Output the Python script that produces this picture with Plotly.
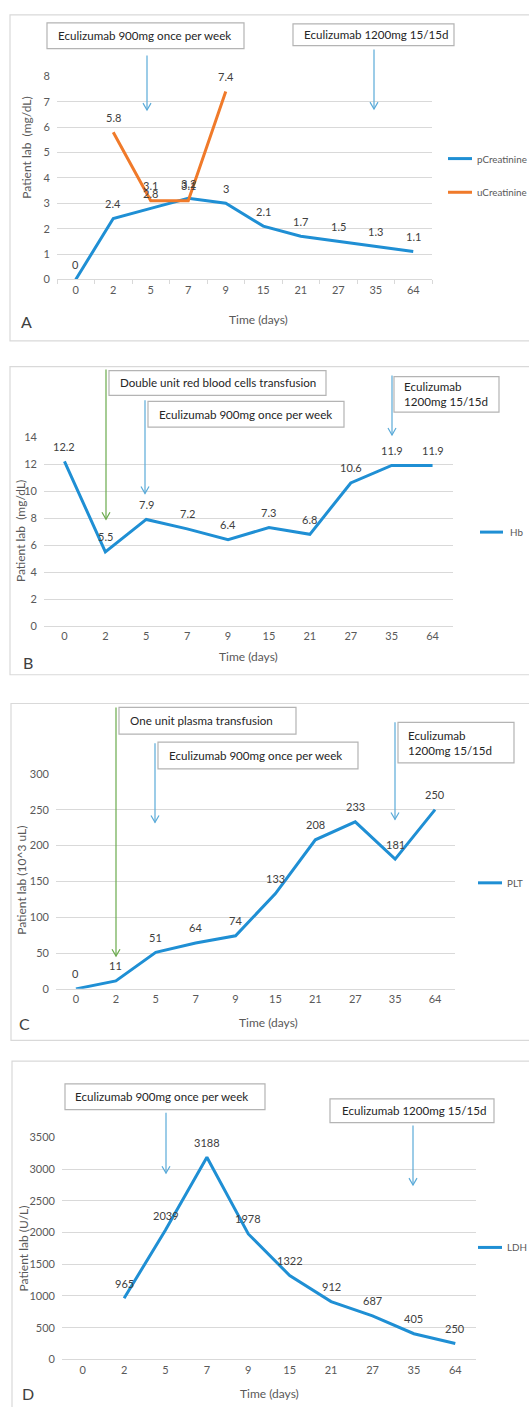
import plotly.graph_objects as go

# ---- data ----
days = ["0", "2", "5", "7", "9", "15", "21", "27", "35", "64"]
p_creatinine = [0, 2.4, 2.8, 3.2, 3, 2.1, 1.7, 1.5, 1.3, 1.1]
u_creatinine = [None, 5.8, 3.1, 3.1, 7.4, None, None, None, None, None]
hb = [12.2, 5.5, 7.9, 7.2, 6.4, 7.3, 6.8, 10.6, 11.9, 11.9]
plt_count = [0, 11, 51, 64, 74, 133, 208, 233, 181, 250]
ldh = [None, 965, 2039, 3188, 1978, 1322, 912, 687, 405, 250]

W, H = 529, 1407
BLUE = "#1f8fd4"
ORANGE = "#f07a2a"
ARROW_BLUE = "#5aaad8"
GREEN = "#6aaa4c"
GRID = "#d9d9d9"
TXT = "#595959"
FONT = "Lato"


def px(x):
    return x / W


def py(y):
    return 1 - y / H


fig = go.Figure()
shapes = []
annotations = []

# panel geometry: (axis suffix, plot left, plot right, plot bottom, plot top, y max, y step)
panels = [
    ("", 57, 432, 275, 70, 8, 1),
    ("2", 44, 453, 625, 434, 14, 2),
    ("3", 56, 455, 991, 774, 300, 50),
    ("4", 62, 476, 1365, 1141, 3500, 500),
]

series = [
    [("pCreatinine", p_creatinine, BLUE), ("uCreatinine", u_creatinine, ORANGE)],
    [("Hb", hb, BLUE)],
    [("PLT", plt_count, BLUE)],
    [("LDH", ldh, BLUE)],
]

for i, (sfx, x0, x1, yb, yt, ymax, ystep) in enumerate(panels):
    xa = "x" + sfx
    ya = "y" + sfx
    for name, vals, col in series[i]:
        fig.add_trace(go.Scatter(
            x=days, y=vals, mode="lines", name=name,
            line=dict(color=col, width=3), xaxis=xa, yaxis=ya,
            showlegend=False, connectgaps=False,
        ))
        # value labels sit above each point (category index as position)
        for k, v in enumerate(vals):
            if v is None:
                continue
            annotations.append(dict(
                x=k, y=v, xref=xa, yref=ya, text=str(v), showarrow=False,
                xanchor="center", yanchor="middle",
                yshift=15, font=dict(family=FONT, size=11, color="#404040"),
            ))
    ticks_visible = GRID if i == 0 else "rgba(0,0,0,0)"
    fig.update_layout(**{
        "xaxis" + sfx: dict(
            type="category", categoryorder="array", categoryarray=days,
            range=[-0.5, 9.5], domain=[px(x0), px(x1)], anchor=ya,
            showgrid=False, showline=True, linecolor=GRID, linewidth=1,
            ticks="outside", ticklen=4, tickcolor=ticks_visible,
            tickson="boundaries",
            tickfont=dict(family=FONT, size=11, color=TXT), zeroline=False,
        ),
        "yaxis" + sfx: dict(
            range=[0, ymax], dtick=ystep, domain=[py(yb), py(yt)], anchor=xa,
            showgrid=True, gridcolor=GRID, gridwidth=1, zeroline=False,
            showline=False, ticks="", ticklabelstandoff=6,
            tickfont=dict(family=FONT, size=11, color=TXT),
        ),
    })

# panel frames
frames = [(10, 8, 540, 337), (10, 363, 540, 674), (11, 703, 540, 1043), (12, 1064, 540, 1420)]
for fx0, fy0, fx1, fy1 in frames:
    shapes.append(dict(type="rect", xref="paper", yref="paper",
                       x0=px(fx0), x1=px(fx1), y0=py(fy1), y1=py(fy0),
                       line=dict(color=GRID, width=1.2), layer="below"))

# axis titles, panel letters
y_titles = [("Patient lab  (mg/dL)", 27, 142), ("Patient lab  (mg/dL)", 20, 529),
            ("Patient lab (10^3 uL)", 22, 882), ("Patient lab (U/L)", 23, 1253)]
x_titles = [(258, 315), (248, 656), (268, 1025), (269, 1399)]
letters = [("A", 26, 317), ("B", 28, 662), ("C", 24, 1026), ("D", 28, 1399)]
for t, x, y in y_titles:
    annotations.append(dict(x=px(x), y=py(y), xref="paper", yref="paper", text=t,
                            showarrow=False, textangle=-90,
                            xanchor="center", yanchor="middle",
                            font=dict(family=FONT, size=12, color=TXT)))
for x, y in x_titles:
    annotations.append(dict(x=px(x), y=py(y), xref="paper", yref="paper", text="Time (days)",
                            showarrow=False, xanchor="center", yanchor="middle",
                            font=dict(family=FONT, size=12, color=TXT)))
for t, x, y in letters:
    annotations.append(dict(x=px(x), y=py(y), xref="paper", yref="paper", text=t,
                            showarrow=False, xanchor="center", yanchor="middle",
                            font=dict(family=FONT, size=16, color="#404040")))

# legends
legends = [
    [("pCreatinine", BLUE, 153), ("uCreatinine", ORANGE, 187)],
    [("Hb", BLUE, 530)],
    [("PLT", BLUE, 884)],
    [("LDH", BLUE, 1252)],
]
legend_x = [(448, 472, 475), (480, 503, 508), (478, 502, 505), (478, 502, 505)]
for entries, (lx0, lx1, tx) in zip(legends, legend_x):
    for name, col, y in entries:
        shapes.append(dict(type="line", xref="paper", yref="paper",
                           x0=px(lx0), x1=px(lx1), y0=py(y), y1=py(y),
                           line=dict(color=col, width=3)))
        annotations.append(dict(x=px(tx), y=py(y), xref="paper", yref="paper", text=name,
                                xanchor="left", yanchor="middle", showarrow=False,
                                font=dict(family=FONT, size=9.8, color=TXT)))

# treatment note boxes: (left, top, right, bottom, text x, text)
boxes = [
    (47, 16, 244, 42, 56, "Eculizumab 900mg once per week"),
    (293, 17, 454, 39, 302, "Eculizumab 1200mg 15/15d"),
    (109, 367, 326, 392, 118, "Double unit red blood cells transfusion"),
    (148, 398, 344, 424, 157, "Eculizumab 900mg once per week"),
    (394, 373, 499, 409, 402, "Eculizumab<br>1200mg 15/15d"),
    (119, 707, 296, 734, 128, "One unit plasma transfusion"),
    (158, 742, 358, 769, 167, "Eculizumab 900mg once per week"),
    (398, 722, 514, 763, 406, "Eculizumab<br>1200mg 15/15d"),
    (65, 1087, 265, 1113, 73, "Eculizumab 900mg once per week"),
    (330, 1102, 494, 1126, 340, "Eculizumab 1200mg 15/15d"),
]
for bx0, by0, bx1, by1, tx, t in boxes:
    shapes.append(dict(type="rect", xref="paper", yref="paper",
                       x0=px(bx0), x1=px(bx1), y0=py(by1), y1=py(by0),
                       line=dict(color="#b4b4b4", width=1.2), fillcolor="white"))
    annotations.append(dict(x=px(tx), y=py((by0 + by1) / 2), xref="paper", yref="paper",
                            text=t, xanchor="left", yanchor="middle", align="left",
                            showarrow=False,
                            font=dict(family=FONT, size=11.6, color="#262626")))

# dosing / transfusion arrows: (x, top, bottom, colour)
arrows = [
    (147, 49, 104, ARROW_BLUE), (374, 43, 103, ARROW_BLUE),
    (106, 366, 517, GREEN), (145, 397, 491, ARROW_BLUE), (392, 372, 432, ARROW_BLUE),
    (116, 707, 958, GREEN), (155, 743, 823, ARROW_BLUE), (395, 722, 820, ARROW_BLUE),
    (166, 1116, 1177, ARROW_BLUE), (413, 1129, 1189, ARROW_BLUE),
]
for ax, at, ab, col in arrows:
    shapes.append(dict(type="line", xref="paper", yref="paper",
                       x0=px(ax), x1=px(ax), y0=py(at), y1=py(ab),
                       line=dict(color=col, width=1.2)))
    path = "M {} {} L {} {} L {} {}".format(px(ax - 4), py(ab - 7), px(ax), py(ab),
                                            px(ax + 4), py(ab - 7))
    shapes.append(dict(type="path", xref="paper", yref="paper", path=path,
                       line=dict(color=col, width=1.2)))

fig.update_layout(
    width=W, height=H, autosize=False,
    margin=dict(l=0, r=0, t=0, b=0),
    paper_bgcolor="white", plot_bgcolor="white",
    showlegend=False,
    shapes=shapes, annotations=annotations,
    font=dict(family=FONT),
)

fig.write_html("out.html")
